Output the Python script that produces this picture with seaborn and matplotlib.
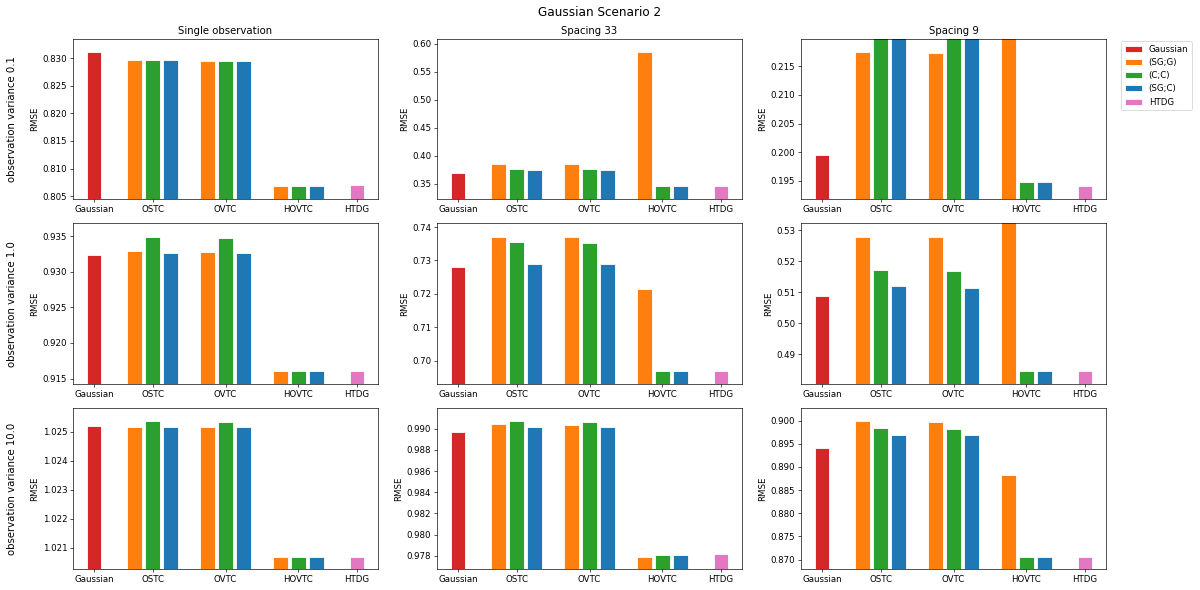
import matplotlib
matplotlib.use("Agg")
import matplotlib.pyplot as plt
import pandas as pd
import seaborn as sns

# methods / colours
methods = ["Gaussian", "(SG;G)", "(C;C)", "(SG;C)", "HTDG"]
colors = ["tab:red", "tab:orange", "tab:green", "tab:blue", "tab:pink"]
groups = ["Gaussian", "OSTC", "OVTC", "HOVTC", "HTDG"]
setups = ["Single observation", "Spacing 33", "Spacing 9"]
variances = ["0.1", "1.0", "10.0"]

# one entry per bar: Gaussian, OSTC x3, OVTC x3, HOVTC x3, HTDG
bar_group = ["Gaussian"] + ["OSTC"] * 3 + ["OVTC"] * 3 + ["HOVTC"] * 3 + ["HTDG"]
bar_method = ["Gaussian"] + ["(SG;G)", "(C;C)", "(SG;C)"] * 3 + ["HTDG"]

# RMSE values (clipped bars are guesses above the axis)
single_01 = [0.8311, 0.8296, 0.8296, 0.8296, 0.8295, 0.8295, 0.8295, 0.8069, 0.8069, 0.8069, 0.8070]
sp33_01 = [0.3696, 0.3862, 0.3760, 0.3742, 0.3856, 0.3760, 0.3742, 0.5852, 0.3464, 0.3464, 0.3464]
sp9_01 = [0.1995, 0.2174, 0.2230, 0.2235, 0.2173, 0.2230, 0.2235, 0.2600, 0.1948, 0.1948, 0.1941]

single_1 = [0.9323, 0.9329, 0.9349, 0.9326, 0.9328, 0.9348, 0.9326, 0.9161, 0.9161, 0.9161, 0.9161]
sp33_1 = [0.7280, 0.7370, 0.7354, 0.7288, 0.7370, 0.7352, 0.7288, 0.7214, 0.6969, 0.6969, 0.6969]
sp9_1 = [0.5088, 0.5278, 0.5172, 0.5119, 0.5278, 0.5169, 0.5114, 0.5600, 0.4846, 0.4846, 0.4846]

single_10 = [1.02521, 1.02517, 1.02537, 1.02515, 1.02515, 1.02533, 1.02515, 1.02069, 1.02069, 1.02069, 1.02069]
sp33_10 = [0.98965, 0.99044, 0.99072, 0.99019, 0.99038, 0.99063, 0.99012, 0.97794, 0.97812, 0.97812, 0.97819]
sp9_10 = [0.89415, 0.89993, 0.89833, 0.89696, 0.89978, 0.89819, 0.89681, 0.8882, 0.87065, 0.87065, 0.87065]

panels = [
    [single_01, sp33_01, sp9_01],
    [single_1, sp33_1, sp9_1],
    [single_10, sp33_10, sp9_10],
]

# y limits as drawn in the original
ylims = [
    [(0.8044, 0.8335), (0.3220, 0.6094), (0.19175, 0.2198)],
    [(0.9142, 0.93678), (0.6929, 0.7411), (0.4803, 0.53226)],
    [(1.02026, 1.02581), (0.97677, 0.99192), (0.86798, 0.90267)],
]

# layout of bars along x
group_center = {"Gaussian": 0.2, "OSTC": 1.0, "OVTC": 2.0, "HOVTC": 3.0, "HTDG": 3.8}
slot = {"Gaussian": 0.0, "(SG;G)": -0.25, "(C;C)": 0.0, "(SG;C)": 0.25, "HTDG": 0.0}
bar_pos = [group_center[g] + slot[m] for g, m in zip(bar_group, bar_method)]
palette = dict(zip(methods, colors))

fig, axes = plt.subplots(3, 3, figsize=(20, 590 / 60))
fig.subplots_adjust(left=73 / 1200, right=1106 / 1200, top=1 - 38.7 / 590,
                    bottom=1 - 569 / 590, wspace=59 / 305, hspace=24 / 161)

for i in range(3):
    for j in range(3):
        ax = axes[i, j]
        df = pd.DataFrame({"pos": bar_pos, "rmse": panels[i][j], "method": bar_method})
        sns.barplot(data=df, x="pos", y="rmse", hue="method", hue_order=methods,
                    palette=palette, saturation=1, native_scale=True, dodge=False,
                    width=0.8, edgecolor="white", linewidth=1, ax=ax,
                    legend=(i == 0 and j == 2))
        ax.set_ylim(*ylims[i][j])
        ax.set_xticks([group_center[g] for g in groups])
        ax.set_xticklabels(groups)
        ax.tick_params(labelsize=10.3)
        ax.set_xlabel("")
        ax.set_ylabel("RMSE", fontsize=10.3)
        if i == 0:
            ax.set_title(setups[j], fontsize=12.2)
        if j == 0:
            pos = ax.get_position()
            fig.text(12 / 1200, pos.y0 + pos.height / 2,
                     "observation variance " + variances[i],
                     rotation=90, ha="center", va="center", fontsize=12.2)

sns.move_legend(axes[0, 2], "upper left", bbox_to_anchor=(1.05, 0.985),
                borderaxespad=0.0, title=None, fontsize=10.3)

fig.suptitle("Gaussian Scenario 2", fontsize=14.4, y=1 - 12.7 / 590, va="center")
fig.savefig("out.png", dpi=60)
